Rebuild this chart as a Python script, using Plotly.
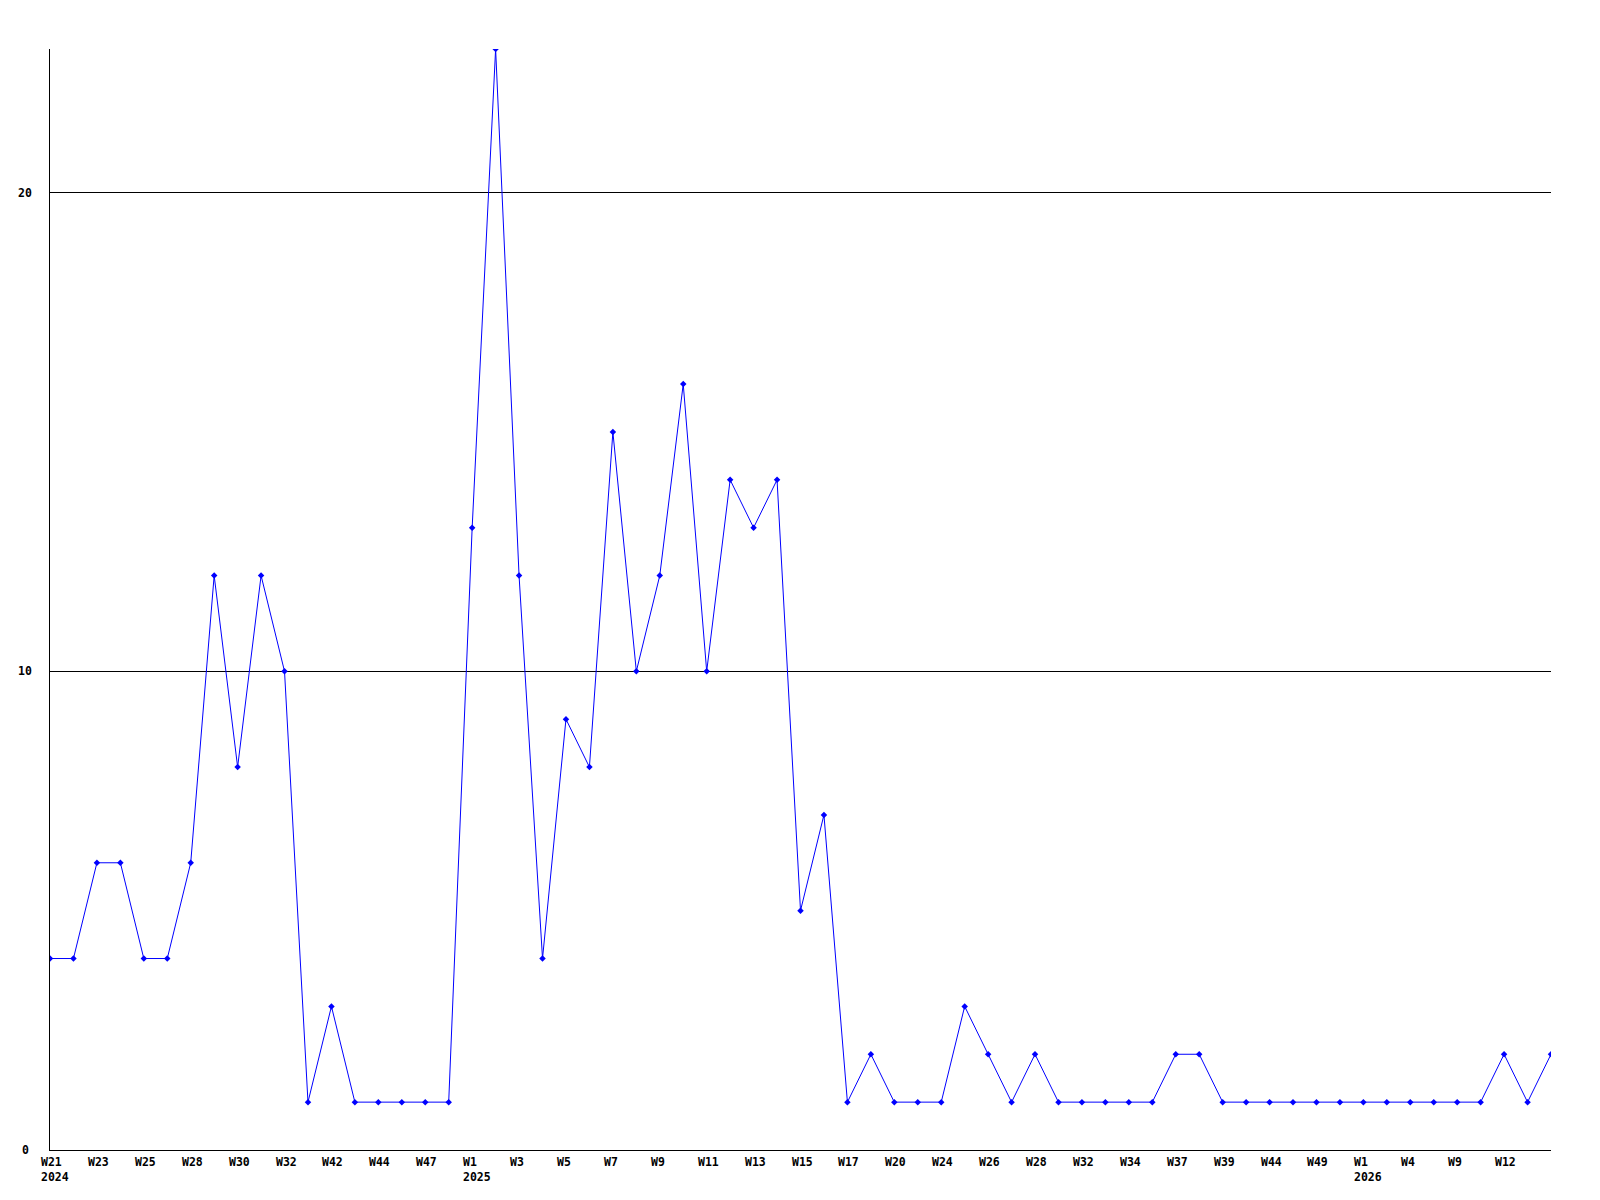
import plotly.graph_objects as go

values = [4, 4, 6, 6, 4, 4, 6, 12, 8, 12, 10, 1, 3, 1, 1, 1, 1, 1, 13, 23,
          12, 4, 9, 8, 15, 10, 12, 16, 10, 14, 13, 14, 5, 7, 1, 2, 1, 1, 1, 3,
          2, 1, 2, 1, 1, 1, 1, 1, 2, 2, 1, 1, 1, 1, 1, 1, 1, 1, 1, 1,
          1, 1, 2, 1, 2]
# labels shown on every second point
tick_labels = ["W21", "W23", "W25", "W28", "W30", "W32", "W42", "W44", "W47",
               "W1", "W3", "W5", "W7", "W9", "W11", "W13", "W15", "W17", "W20",
               "W24", "W26", "W28", "W32", "W34", "W37", "W39", "W44", "W49",
               "W1", "W4", "W9", "W12"]
year_labels = {0: "2024", 9: "2025", 28: "2026"}
y_ticks = [0, 10, 20]

x = list(range(len(values)))

fig = go.Figure()
fig.add_trace(go.Scatter(
    x=x, y=values, mode="lines+markers",
    line=dict(color="#0000ff", width=1),
    marker=dict(symbol="diamond", size=5, color="#0000ff"),
    hoverinfo="skip", showlegend=False,
))

font = dict(family="DejaVu Sans Mono", size=11.5, color="#000000", weight="bold")
annotations = []
for i, lab in enumerate(tick_labels):
    xi = x[2 * i]
    annotations.append(dict(x=xi, y=0, xref="x", yref="paper", text=lab,
                            showarrow=False, xanchor="left", yanchor="middle",
                            xshift=-11, yshift=-12, font=font))
    if i in year_labels:
        annotations.append(dict(x=xi, y=0, xref="x", yref="paper",
                                text=year_labels[i], showarrow=False,
                                xanchor="left", yanchor="middle",
                                xshift=-11, yshift=-27, font=font))
for t in y_ticks:
    annotations.append(dict(x=0, y=t, xref="paper", yref="y", text=str(t),
                            showarrow=False, xanchor="center", yanchor="middle",
                            xshift=-25, font=font))

fig.update_layout(
    width=1584, height=1184,
    margin=dict(l=42, r=41, t=41, b=42),
    paper_bgcolor="#ffffff", plot_bgcolor="#ffffff",
    font=font,
    annotations=annotations,
    xaxis=dict(range=[0, len(values) - 1], showgrid=False, zeroline=False,
               showticklabels=False, ticks="", showline=True,
               linecolor="#000000", linewidth=1, fixedrange=True),
    yaxis=dict(range=[0, 23], tickvals=y_ticks, showgrid=True,
               gridcolor="#000000", gridwidth=1, zeroline=False,
               showticklabels=False, ticks="", showline=True,
               linecolor="#000000", linewidth=1, fixedrange=True),
)

fig.write_html("out.html", config={"displayModeBar": False})
